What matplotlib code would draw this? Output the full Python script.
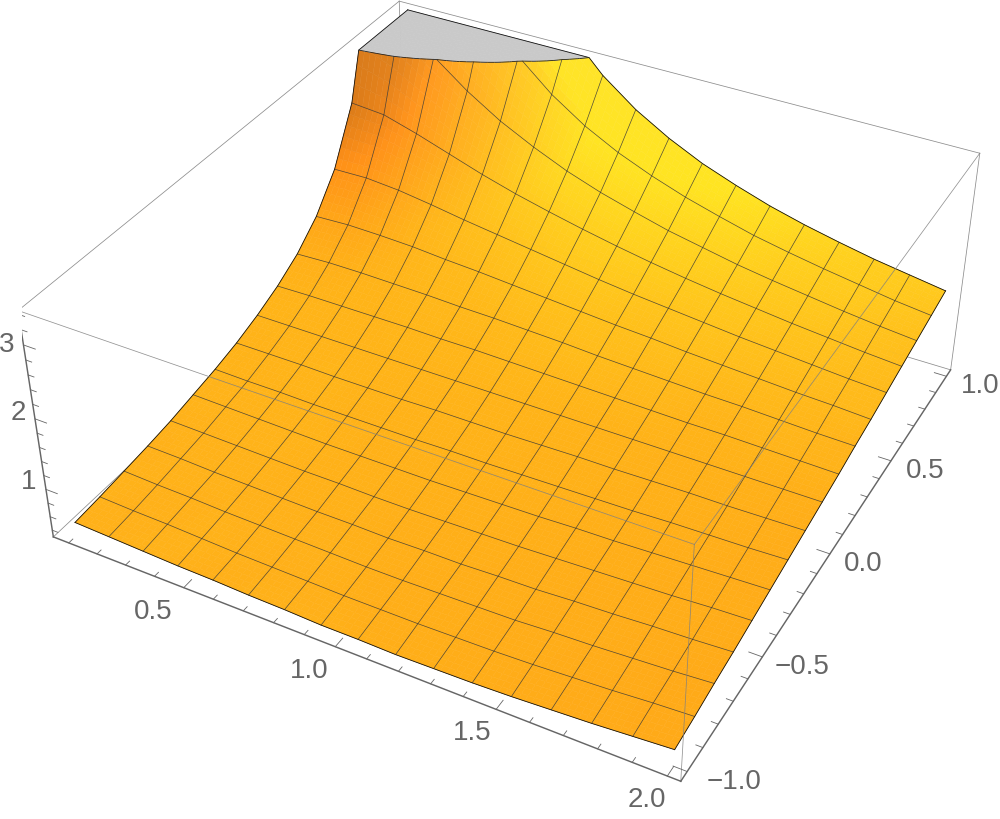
"""Surface plot with clipped top, mesh lines and a Mathematica style box."""
import numpy as np
import matplotlib
matplotlib.use("Agg")
import matplotlib.pyplot as plt
from mpl_toolkits.mplot3d import proj3d
from mpl_toolkits.mplot3d.art3d import Poly3DCollection, Line3DCollection

plt.rcParams["font.family"] = ["Liberation Sans", "DejaVu Sans"]

x_mesh = [0.1 + 0.11875 * i for i in range(17)]
y_mesh = [-1 + 0.125 * k for k in range(17)]

# values read per mesh node, rows go with y_mesh, columns with x_mesh
z_mesh = [
    [0.49,0.47,0.45,0.43,0.42,0.40,0.39,0.37,0.37,0.36,0.37,0.38,0.40,0.43,0.46,0.50,0.54],
    [0.52,0.50,0.49,0.47,0.45,0.44,0.43,0.42,0.42,0.42,0.43,0.44,0.46,0.49,0.52,0.56,0.59],
    [0.56,0.54,0.53,0.51,0.50,0.49,0.48,0.47,0.47,0.48,0.49,0.50,0.53,0.55,0.58,0.61,0.65],
    [0.60,0.59,0.57,0.56,0.55,0.54,0.54,0.53,0.54,0.54,0.56,0.57,0.60,0.62,0.65,0.67,0.70],
    [0.65,0.64,0.63,0.62,0.61,0.61,0.60,0.60,0.61,0.62,0.63,0.65,0.67,0.69,0.71,0.74,0.76],
    [0.72,0.71,0.70,0.69,0.68,0.68,0.68,0.68,0.69,0.70,0.71,0.73,0.74,0.76,0.78,0.80,0.82],
    [0.79,0.78,0.78,0.77,0.77,0.77,0.77,0.78,0.78,0.79,0.80,0.81,0.82,0.84,0.85,0.86,0.88],
    [0.88,0.88,0.88,0.87,0.87,0.87,0.88,0.88,0.88,0.89,0.90,0.90,0.91,0.92,0.92,0.93,0.94],
    [1.00,1.00,1.00,1.00,1.00,1.00,1.00,1.00,1.00,1.00,1.00,1.00,1.00,1.00,1.00,1.00,1.00],
    [1.15,1.16,1.16,1.16,1.16,1.15,1.15,1.14,1.13,1.12,1.11,1.10,1.09,1.09,1.08,1.07,1.06],
    [1.35,1.37,1.37,1.36,1.35,1.33,1.32,1.30,1.28,1.25,1.23,1.21,1.19,1.18,1.16,1.14,1.13],
    [1.64,1.66,1.65,1.63,1.59,1.56,1.52,1.48,1.44,1.40,1.37,1.33,1.30,1.27,1.24,1.22,1.19],
    [2.08,2.09,2.05,1.98,1.90,1.83,1.76,1.69,1.62,1.56,1.51,1.46,1.41,1.37,1.33,1.29,1.26],
    [2.80,2.76,2.62,2.46,2.30,2.16,2.04,1.93,1.83,1.74,1.66,1.59,1.53,1.47,1.42,1.37,1.33],
    [4.22,3.89,3.48,3.12,2.82,2.58,2.37,2.20,2.06,1.93,1.83,1.73,1.65,1.58,1.51,1.45,1.40],
    [6.00,6.00,4.86,4.06,3.50,3.09,2.77,2.52,2.32,2.15,2.01,1.88,1.78,1.69,1.61,1.53,1.47],
    [6.00,6.00,6.00,5.45,4.41,3.73,3.25,2.89,2.61,2.38,2.20,2.04,1.91,1.80,1.70,1.62,1.54],
]

x_ticks = [0.1 + 0.1 * i for i in range(20)]
y_ticks = [-1 + 0.1 * i for i in range(21)]
z_ticks = [0.4 + 0.2 * i for i in range(16)]
x_labels = {0.5: "0.5", 1.0: "1.0", 1.5: "1.5", 2.0: "2.0"}
y_labels = {-1.0: "\u22121.0", -0.5: "\u22120.5", 0.0: "0.0", 0.5: "0.5", 1.0: "1.0"}
z_labels = {1.0: "1", 2.0: "2", 3.0: "3"}
x_label_dx = {0.5: -31, 1.0: -26, 1.5: -24, 2.0: -20}
y_label_dx = {-1.0: 47, -0.5: 40, 0.0: 33, 0.5: 34, 1.0: 34}
z_label_dy = {1.0: 7, 2.0: 6, 3.0: 0}

x_box = (0.045, 2.038)
y_box = (-1.04, 1.04)
z_box = (0.30, 3.45)
z_clip = 3.45
SUB = 6


def shade(gx, gy):
    """Orange surface colour from the box-scaled slopes."""
    gx = gx * 0.252
    gy = gy * 0.265
    norm = np.sqrt(gx ** 2 + gy ** 2 + 1)
    nx, ny, nz = -gx / norm, -gy / norm, 1 / norm
    dark = min(1.0, (125 + 217 * nz) / 255 + 0.6 * max(nx, 0))
    red = 255 * dark
    side = 157 * nx if nx > 0 else 50 * nx
    steep = 310 * max(nx, 0) * max(0, -ny - 0.6)
    green = min(228, 165 + side - 95 * ny - 150 * ny ** 2 - steep) * dark ** 0.3
    blue = 24 + 30 * max(nx, 0)
    return (red / 255, green / 255, blue / 255, 1.0)


def clip_poly(pts, keep_below):
    """Cut a polygon at z_clip, returns the part below or above."""
    out = []
    for a, b in zip(pts, pts[1:] + pts[:1]):
        a_in = a[2] <= z_clip if keep_below else a[2] > z_clip
        b_in = b[2] <= z_clip if keep_below else b[2] > z_clip
        if a_in:
            out.append(a)
        if a_in != b_in:
            t = (z_clip - a[2]) / (b[2] - a[2])
            out.append((a[0] + t * (b[0] - a[0]), a[1] + t * (b[1] - a[1]), z_clip))
    return out


def build_faces(z):
    """Splits mesh cells into small flat faces, the top part goes grey."""
    grad_y, grad_x = np.gradient(z, y_mesh, x_mesh)
    polys, colors, rim = [], [], []
    cap = (0.79, 0.79, 0.79, 1.0)
    for k in range(16):
        for i in range(16):
            for sk in range(SUB):
                for si in range(SUB):
                    corners = []
                    for v, u in ((sk, si), (sk, si + 1), (sk + 1, si + 1), (sk + 1, si)):
                        tu, tv = u / SUB, v / SUB
                        px = x_mesh[i] + tu * (x_mesh[i + 1] - x_mesh[i])
                        py = y_mesh[k] + tv * (y_mesh[k + 1] - y_mesh[k])
                        pz = ((1 - tu) * (1 - tv) * z[k, i] + tu * (1 - tv) * z[k, i + 1]
                              + (1 - tu) * tv * z[k + 1, i] + tu * tv * z[k + 1, i + 1])
                        corners.append((px, py, pz))
                    tu, tv = (si + 0.5) / SUB, (sk + 0.5) / SUB
                    gx = ((1 - tu) * (1 - tv) * grad_x[k, i] + tu * (1 - tv) * grad_x[k, i + 1]
                          + (1 - tu) * tv * grad_x[k + 1, i] + tu * tv * grad_x[k + 1, i + 1])
                    gy = ((1 - tu) * (1 - tv) * grad_y[k, i] + tu * (1 - tv) * grad_y[k, i + 1]
                          + (1 - tu) * tv * grad_y[k + 1, i] + tu * tv * grad_y[k + 1, i + 1])
                    col = shade(gx, gy)
                    below = clip_poly(corners, True)
                    above = clip_poly(corners, False)
                    if len(below) >= 3:
                        polys.append(below)
                        colors.append(col)
                    if len(above) >= 3:
                        polys.append([(p[0], p[1], z_clip) for p in above])
                        colors.append(cap)
                    if len(below) >= 3 and len(above) >= 3:
                        rim.append([p for p in below if abs(p[2] - z_clip) < 1e-9][:2])
    return polys, colors, [r for r in rim if len(r) == 2]


def trim_line(xs, ys, zs, keep_top):
    """Adds the crossing points with z_clip to one mesh line."""
    ox, oy, oz = [], [], []
    for j in range(len(xs)):
        if j > 0 and (zs[j - 1] - z_clip) * (zs[j] - z_clip) < 0:
            t = (z_clip - zs[j - 1]) / (zs[j] - zs[j - 1])
            ox.append(xs[j - 1] + t * (xs[j] - xs[j - 1]))
            oy.append(ys[j - 1] + t * (ys[j] - ys[j - 1]))
            oz.append(z_clip)
        ox.append(xs[j])
        oy.append(ys[j])
        if zs[j] > z_clip:
            oz.append(z_clip if keep_top else np.nan)
        else:
            oz.append(zs[j])
    return ox, oy, oz


fig = plt.figure(figsize=(10, 8.19), dpi=100)
ax = fig.add_axes([21.8 / 1000, -24.3 / 819, 975 / 1000, 975 / 819], projection="3d")
ax.set_xlim(*x_box, view_margin=0)
ax.set_ylim(*y_box, view_margin=0)
ax.set_zlim(*z_box, view_margin=0)
ax.view_init(elev=36.208, azim=-61.598)
ax.set_proj_type("persp", focal_length=0.44545)
ax.set_box_aspect((1.00255, 1, 0.40187))
ax.set_axis_off()
ax.computed_zorder = False

x0, x1 = x_box
y0, y1 = y_box
z0, z1 = z_box

# hidden box edges under the surface
box_back = [
    ((x0, x0), (y0, y1), (z0, z0)), ((x0, x1), (y1, y1), (z0, z0)),
    ((x0, x0), (y1, y1), (z0, z1)), ((x1, x1), (y1, y1), (z0, z1)),
    ((x0, x0), (y0, y1), (z1, z1)), ((x0, x1), (y1, y1), (z1, z1)),
]
for bx, by, bz in box_back:
    ax.plot(bx, by, bz, color="#8c8c8c", lw=0.55, zorder=0)

z_arr = np.array(z_mesh)
faces, face_colors, rim_lines = build_faces(z_arr)
surface = Poly3DCollection(faces, facecolors=face_colors, edgecolors=face_colors,
                           linewidths=0.35, zsort="average", zorder=1)
ax.add_collection3d(surface)

# mesh lines, outer ones run on over the grey top
for k, yv in enumerate(y_mesh):
    outer = k in (0, 16)
    lx, ly, lz = trim_line(x_mesh, [yv] * 17, list(z_arr[k]), outer)
    ax.plot(lx, ly, lz, color="#111111" if outer else "#333333", lw=0.6 if outer else 0.5,
            alpha=1 if outer else 0.85, zorder=2)
for i, xv in enumerate(x_mesh):
    outer = i in (0, 16)
    lx, ly, lz = trim_line([xv] * 17, y_mesh, list(z_arr[:, i]), outer)
    ax.plot(lx, ly, lz, color="#111111" if outer else "#333333", lw=0.6 if outer else 0.5,
            alpha=1 if outer else 0.85, zorder=2)
ax.add_collection3d(Line3DCollection(rim_lines, colors="#222222", linewidths=0.6, zorder=2))

# box edges that run in front of the surface
box_front = [
    ((x0, x1), (y0, y0), (z1, z1)), ((x1, x1), (y0, y1), (z1, z1)),
    ((x1, x1), (y0, y0), (z0, z1)),
]
for bx, by, bz in box_front:
    ax.plot(bx, by, bz, color="#808080", lw=0.55, alpha=0.85, zorder=3)

# axes with ticks
ax_col = "#666666"
ax.plot((x0, x1), (y0, y0), (z0, z0), color=ax_col, lw=1.05, zorder=4)
ax.plot((x1, x1), (y0, y1), (z0, z0), color=ax_col, lw=1.05, zorder=4)
ax.plot((x0, x0), (y0, y0), (z0, z1), color=ax_col, lw=1.05, zorder=4)
for t in x_ticks:
    d = 0.04 if round(t, 1) in x_labels else 0.02
    ax.plot((t, t), (y0, y0 + d), (z0, z0), color=ax_col, lw=0.6, zorder=4)
for t in y_ticks:
    d = 0.04 if round(t, 1) in y_labels else 0.02
    ax.plot((x1, x1 - d), (t, t), (z0, z0), color=ax_col, lw=0.6, zorder=4)
for t in z_ticks:
    d = 0.04 if round(t, 1) in z_labels else 0.02
    ax.plot((x0, x0 + d), (y0, y0), (t, t), color=ax_col, lw=0.6, zorder=4)


def tick_label(text, px, py, pz, dx, dy):
    tx, ty, _ = proj3d.proj_transform(px, py, pz, ax.get_proj())
    ax.annotate(text, xy=(tx, ty), xycoords="data", xytext=(dx, dy), textcoords="offset pixels",
                ha="center", va="center", fontsize=20, color=ax_col, annotation_clip=False)


for val, txt in x_labels.items():
    tick_label(txt, val, y0, z0, x_label_dx[val], -24)
for val, txt in y_labels.items():
    tick_label(txt, x1, val, z0, y_label_dx[val], -10)
for val, txt in z_labels.items():
    tick_label(txt, x0, y0, val, -17, z_label_dy[val])

fig.savefig("out.png", dpi=100)
